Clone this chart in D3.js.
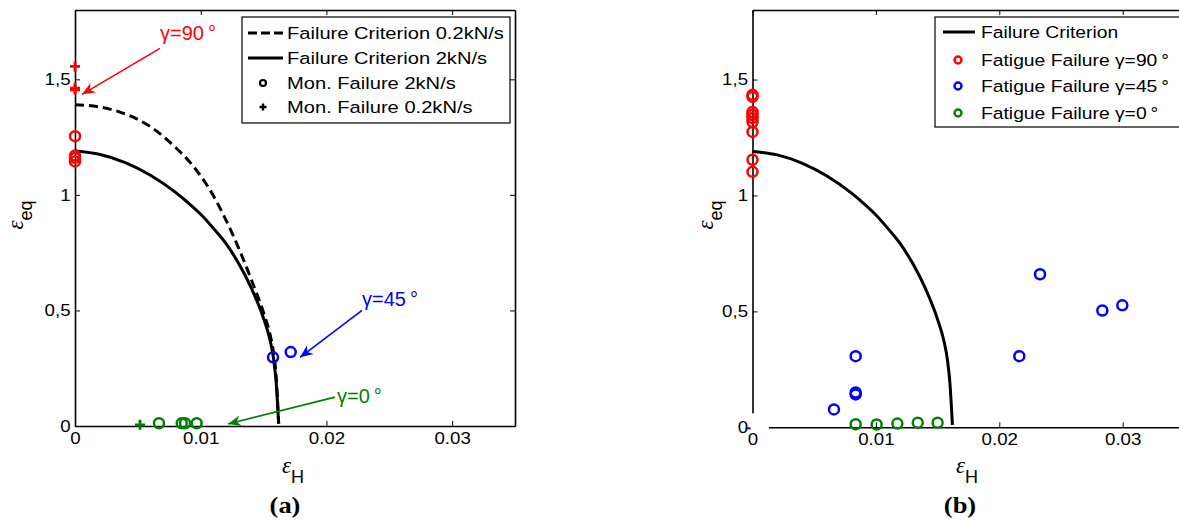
<!DOCTYPE html>
<html><head><meta charset="utf-8">
<script src="https://cdn.jsdelivr.net/npm/d3@7/dist/d3.min.js"></script>
<style>body{margin:0;background:#fff}svg{display:block}</style>
</head><body>
<script>
// ---------- data ----------
const xTickValues = [0, 0.01, 0.02, 0.03];
const xTickLabels = ["0", "0.01", "0.02", "0.03"];
const yTickValues = [0, 0.5, 1, 1.5];
const yTickLabels = ["0", "0,5", "1", "1,5"];

// failure criterion curves
const critSlowX = [0, 0.002, 0.004, 0.006, 0.008, 0.009, 0.010, 0.011, 0.012, 0.013, 0.014, 0.015, 0.0155, 0.0158, 0.016, 0.0162];
const critSlowY = [1.39, 1.38, 1.35, 1.295, 1.205, 1.15, 1.082, 0.997, 0.892, 0.772, 0.637, 0.49, 0.40, 0.315, 0.215, 0.01];
const critFastX = [0, 0.002, 0.004, 0.006, 0.008, 0.009, 0.010, 0.011, 0.012, 0.013, 0.014, 0.015, 0.0155, 0.0158, 0.016, 0.0162];
const critFastY = [1.19, 1.175, 1.14, 1.085, 1.011, 0.966, 0.916, 0.856, 0.79, 0.705, 0.60, 0.465, 0.375, 0.29, 0.19, 0.01];

// panel (a) monotonic failures
const monFast90X = [0, 0, 0, 0];
const monFast90Y = [1.254, 1.17, 1.16, 1.145];
const monSlow90X = [0, 0, 0];
const monSlow90Y = [1.556, 1.462, 1.455];
const monFast45X = [0.01575, 0.01716];
const monFast45Y = [0.297, 0.32];
const monFast0X = [0.00668, 0.00849, 0.00875, 0.00968];
const monFast0Y = [0.012, 0.012, 0.012, 0.012];
const monSlow0X = [0.00517];
const monSlow0Y = [0.005];

// panel (b) fatigue failures
const fat90X = [0, 0, 0, 0, 0, 0, 0, 0, 0];
const fat90Y = [1.434, 1.425, 1.36, 1.347, 1.334, 1.317, 1.274, 1.154, 1.102];
const fat45X = [0.0066, 0.00836, 0.00836, 0.00836, 0.02162, 0.0233, 0.02835, 0.02997];
const fat45Y = [0.077, 0.142, 0.150, 0.307, 0.307, 0.66, 0.504, 0.526];
const fat0X = [0.00836, 0.01006, 0.01174, 0.01339, 0.0150];
const fat0Y = [0.013, 0.012, 0.016, 0.02, 0.02];

const legendA = ["Failure Criterion 0.2kN/s", "Failure Criterion 2kN/s", "Mon. Failure 2kN/s", "Mon. Failure 0.2kN/s"];
const legendB = ["Failure Criterion", "Fatigue Failure \u03b3=90\u2009°", "Fatigue Failure \u03b3=45\u2009°", "Fatigue Failure \u03b3=0\u2009°"];

// annotations (data coords): text anchor, arrow start, arrow tip
const annText = ["\u03b3=90\u2009°", "\u03b3=45\u2009°", "\u03b3=0\u2009°"];
const annTextX = [0.00676, 0.02283, 0.02084];
const annTextY = [1.672, 0.52, 0.099];
const annFromX = [0.00676, 0.02283, 0.02068];
const annFromY = [1.634, 0.50, 0.125];
const annToX = [0.00056, 0.0179, 0.01217];
const annToY = [1.435, 0.297, 0.009];

// ---------- styles ----------
const RED = "#ff0000", BLUE = "#0000ff", GREEN = "#008000";
const SANS = "'Liberation Sans', Arial, Helvetica, sans-serif";
const SERIF = "'Liberation Serif', 'Times New Roman', serif";

const W = 1179, H = 526;
const svg = d3.select("body").append("svg").attr("width", W).attr("height", H);
svg.append("rect").attr("width", W).attr("height", H).attr("fill", "#fff");

function zip(xs, ys) { return xs.map((x, i) => [x, ys[i]]); }

function sText(g, x, y, str, opts = {}) {
  return g.append("text")
    .attr("transform", `translate(${x},${y}) scale(${opts.sx || 1},1)`)
    .attr("font-family", opts.family || SANS)
    .attr("font-size", opts.size || 16)
    .attr("fill", opts.fill || "#000")
    .attr("text-anchor", opts.anchor || "start")
    .attr("font-weight", opts.weight || "normal")
    .attr("dy", opts.dy || "0.35em")
    .text(str);
}

function circles(g, x, y, pts, color, r = 5, sw = 2.5) {
  g.selectAll(null).data(pts).enter().append("circle")
    .attr("cx", d => x(d[0])).attr("cy", d => y(d[1])).attr("r", r)
    .attr("fill", "none").attr("stroke", color).attr("stroke-width", sw);
}
function plusses(g, x, y, pts, color, s = 5, sw = 2.8) {
  g.selectAll(null).data(pts).enter().append("path")
    .attr("d", d => { const cx = x(d[0]), cy = y(d[1]); return `M${cx - s},${cy}H${cx + s}M${cx},${cy - s}V${cy + s}`; })
    .attr("stroke", color).attr("stroke-width", sw).attr("fill", "none");
}

function drawAxes(g, x, y) {
  const tickFont = 17, tickSx = 1.1;
  const bottom = g.append("g").attr("transform", `translate(0,${y.range()[0]})`)
    .call(d3.axisBottom(x).tickValues(xTickValues).tickFormat((d, i) => xTickLabels[i]).tickSizeInner(-5).tickSizeOuter(0).tickPadding(6));
  const left = g.append("g").attr("transform", `translate(${x.range()[0]},0)`)
    .call(d3.axisLeft(y).tickValues(yTickValues).tickFormat((d, i) => yTickLabels[i]).tickSizeInner(-5).tickSizeOuter(0).tickPadding(4));
  const top = g.append("g").attr("transform", `translate(0,${y.range()[1]})`)
    .call(d3.axisTop(x).tickValues(xTickValues).tickFormat("").tickSizeInner(-5).tickSizeOuter(0));
  const right = g.append("g").attr("transform", `translate(${x.range()[1]},0)`)
    .call(d3.axisRight(y).tickValues(yTickValues).tickFormat("").tickSizeInner(-5).tickSizeOuter(0));
  [bottom, left, top, right].forEach(a => {
    a.select(".domain").attr("stroke", "#000").attr("stroke-width", 1.6);
    a.selectAll(".tick line").attr("stroke", "#000").attr("stroke-width", 1);
    a.selectAll("text").attr("font-family", SANS).attr("font-size", tickFont).attr("fill", "#000");
  });
  bottom.selectAll(".tick text").attr("transform", `scale(${tickSx},1)`);
  left.selectAll(".tick text").attr("transform", `scale(${tickSx},1)`);
}

function axisLabels(g, xcx, ylx) {
  const xt = g.append("text").attr("x", xcx).attr("y", 473).attr("text-anchor", "middle");
  xt.append("tspan").attr("font-family", SERIF).attr("font-style", "italic").attr("font-size", 23).text("\u03b5");
  xt.append("tspan").attr("font-family", SANS).attr("font-size", 18).attr("dy", 10).text("H");
  const yt = g.append("text").attr("transform", `translate(${ylx},215) rotate(-90)`).attr("text-anchor", "middle");
  yt.append("tspan").attr("font-family", SERIF).attr("font-style", "italic").attr("font-size", 23).text("\u03b5");
  yt.append("tspan").attr("font-family", SANS).attr("font-size", 18).attr("dy", 9).text("eq");
}

function arrow(g, x1, y1, x2, y2, color) {
  g.append("line").attr("x1", x1).attr("y1", y1).attr("x2", x2).attr("y2", y2)
    .attr("stroke", color).attr("stroke-width", 1.6);
  const a = Math.atan2(y2 - y1, x2 - x1);
  const L = 13, Wd = 5.5, N = 9;
  const ux = Math.cos(a), uy = Math.sin(a), px = -uy, py = ux;
  const p = [
    [x2, y2],
    [x2 - L * ux + Wd * px, y2 - L * uy + Wd * py],
    [x2 - N * ux, y2 - N * uy],
    [x2 - L * ux - Wd * px, y2 - L * uy - Wd * py]
  ];
  g.append("path").attr("d", "M" + p.map(q => q.join(",")).join("L") + "Z").attr("fill", color).attr("stroke", "none");
}

const line = (x, y) => d3.line().x(d => x(d[0])).y(d => y(d[1])).curve(d3.curveMonotoneX);

// ---------- panel (a) ----------
const xA = d3.scaleLinear().domain([0, 0.035]).range([75, 515]);
const yA = d3.scaleLinear().domain([0, 1.8]).range([426, 10]);
const gA = svg.append("g");

gA.append("path").datum(zip(critSlowX, critSlowY)).attr("d", line(xA, yA))
  .attr("fill", "none").attr("stroke", "#000").attr("stroke-width", 3).attr("stroke-dasharray", "9,5");
gA.append("path").datum(zip(critFastX, critFastY)).attr("d", line(xA, yA))
  .attr("fill", "none").attr("stroke", "#000").attr("stroke-width", 3);

drawAxes(gA, xA, yA);

circles(gA, xA, yA, zip(monFast90X, monFast90Y), RED);
plusses(gA, xA, yA, zip(monSlow90X, monSlow90Y), RED);
circles(gA, xA, yA, zip(monFast45X, monFast45Y), BLUE);
circles(gA, xA, yA, zip(monFast0X, monFast0Y), GREEN);
plusses(gA, xA, yA, zip(monSlow0X, monSlow0Y), GREEN);

const annColors = [RED, BLUE, GREEN];
annText.forEach((t, i) => {
  arrow(gA, xA(annFromX[i]), yA(annFromY[i]), xA(annToX[i]), yA(annToY[i]), annColors[i]);
  gA.append("text").attr("x", xA(annTextX[i])).attr("y", yA(annTextY[i]))
    .attr("font-family", SANS).attr("font-size", 20).attr("fill", annColors[i]).text(t);
});

// legend (a)
const lgA = gA.append("g");
lgA.append("rect").attr("x", 242).attr("y", 17).attr("width", 268).attr("height", 106)
  .attr("fill", "#fff").attr("stroke", "#000").attr("stroke-width", 1.2);
const lyA = [33, 58, 83, 107];
lgA.append("line").attr("x1", 248).attr("x2", 283).attr("y1", lyA[0]).attr("y2", lyA[0])
  .attr("stroke", "#000").attr("stroke-width", 3).attr("stroke-dasharray", "9,4");
lgA.append("line").attr("x1", 248).attr("x2", 283).attr("y1", lyA[1]).attr("y2", lyA[1])
  .attr("stroke", "#000").attr("stroke-width", 3);
lgA.append("circle").attr("cx", 263).attr("cy", lyA[2]).attr("r", 3).attr("fill", "none").attr("stroke", "#000").attr("stroke-width", 2.2);
lgA.append("path").attr("d", `M259.5,${lyA[3]}H266.5M263,${lyA[3] - 3.5}V${lyA[3] + 3.5}`).attr("stroke", "#000").attr("stroke-width", 2.4);
legendA.forEach((t, i) => sText(lgA, 287, lyA[i], t, { size: 16.5, sx: 1.22 }));

axisLabels(gA, 293, 23);
sText(svg, 285, 505, "(a)", { family: SERIF, weight: "bold", size: 23, sx: 1.15, anchor: "middle" });

// ---------- panel (b) ----------
const xB = d3.scaleLinear().domain([0, 0.035]).range([752.5, 1184.4]);
const yB = d3.scaleLinear().domain([0, 1.8]).range([427.3, 10]);
const gB = svg.append("g");

gB.append("path").datum(zip(critFastX, critFastY)).attr("d", line(xB, yB))
  .attr("fill", "none").attr("stroke", "#000").attr("stroke-width", 3);
drawAxes(gB, xB, yB);
// white gap at the origin of panel (b), as in the picture
gB.append("rect").attr("x", xB(0) - 1.5).attr("y", yB(0) - 14).attr("width", 18).attr("height", 16).attr("fill", "#fff");
gB.append("line").attr("x1", xB(0) - 7).attr("x2", xB(0) - 2).attr("y1", yB(0) + 1).attr("y2", yB(0) + 1)
  .attr("stroke", BLUE).attr("stroke-width", 2);

circles(gB, xB, yB, zip(fat90X, fat90Y), RED);
circles(gB, xB, yB, zip(fat45X, fat45Y), BLUE);
circles(gB, xB, yB, zip(fat0X, fat0Y), GREEN);

const lgB = gB.append("g");
lgB.append("rect").attr("x", 935).attr("y", 17).attr("width", 270).attr("height", 110)
  .attr("fill", "#fff").attr("stroke", "#000").attr("stroke-width", 1.2);
const lyB = [32, 60, 86, 113];
lgB.append("line").attr("x1", 943).attr("x2", 975).attr("y1", lyB[0]).attr("y2", lyB[0])
  .attr("stroke", "#000").attr("stroke-width", 3);
[RED, BLUE, GREEN].forEach((c, i) => {
  lgB.append("circle").attr("cx", 958).attr("cy", lyB[i + 1]).attr("r", 3.5).attr("fill", "none").attr("stroke", c).attr("stroke-width", 2.4);
});
legendB.forEach((t, i) => sText(lgB, 981, lyB[i], t, { size: 16.5, sx: 1.17 }));

axisLabels(gB, 967, 713);
sText(svg, 960, 505, "(b)", { family: SERIF, weight: "bold", size: 23, sx: 1.15, anchor: "middle" });
</script>
</body></html>
